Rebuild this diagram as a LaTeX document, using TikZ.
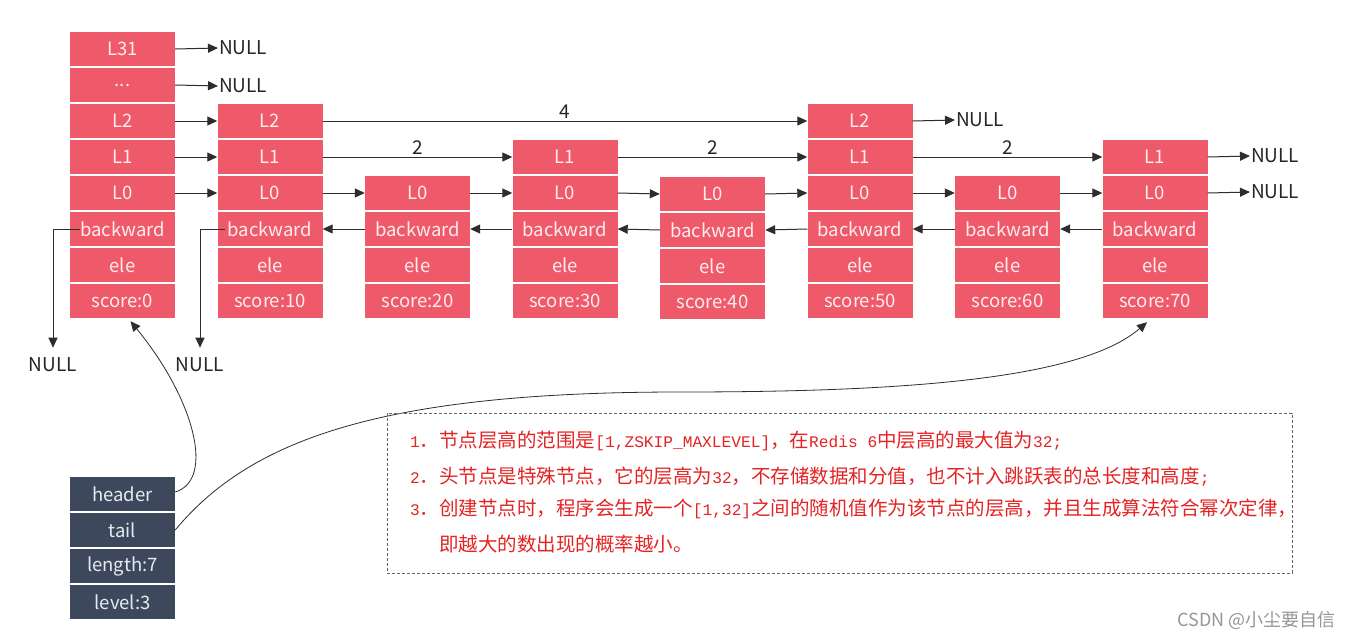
\documentclass[tikz,border=0pt]{standalone}
\usepackage{fontspec}
\setmainfont{Noto Sans CJK SC}
\newfontfamily\monof{Liberation Mono}[Scale=0.83]
\usetikzlibrary{arrows.meta}
\definecolor{cellred}{RGB}{239,90,106}
\definecolor{celltxt}{RGB}{255,236,238}
\definecolor{darkcell}{RGB}{61,72,92}
\definecolor{darktxt}{RGB}{230,235,242}
\definecolor{linec}{RGB}{45,45,45}
\definecolor{notered}{RGB}{228,36,36}
\definecolor{markgray}{RGB}{150,150,150}
\newcommand{\mn}[1]{{\monof #1}}
\begin{document}
\begin{tikzpicture}[x=1pt,y=-1pt,
  cell/.style={fill=cellred,text=celltxt,minimum width=105pt,minimum height=34pt,inner sep=0pt,font=\fontsize{18.5}{20}\selectfont},
  dcell/.style={cell,fill=darkcell,text=darktxt},
  arr/.style={draw=linec,line width=1pt,-{Triangle[length=10pt,width=9pt]}},
  curvearr/.style={arr,line width=0.8pt},
  nulltxt/.style={font=\fontsize{19}{21}\selectfont,text=black!85,inner sep=1pt},
  lbl/.style={font=\fontsize{19}{21}\selectfont,text=black!85,inner sep=0pt},
  note/.style={font=\fontsize{19.5}{22}\selectfont,text=notered,inner sep=0pt,anchor=west},
  notebox/.style={draw=black!60,line width=0.8pt,dash pattern=on 3pt off 2pt,minimum width=905pt,minimum height=160pt,inner sep=0pt},
  wmark/.style={font=\fontsize{18}{20}\selectfont,text=markgray,anchor=east,inner sep=0pt}
]
\fill[white] (0,0) rectangle (1351,640);
\useasboundingbox (0,0) rectangle (1351,640);

% skip-list nodes
\foreach \c/\x/\top/\s/\dy in {0/122.5/2/0/0,1/270/2/10/0,2/417.5/0/20/0,3/565/1/30/0,4/712.5/0/40/1,5/860/2/50/0,6/1007.5/0/60/0,7/1155/1/70/0}{
  \node[cell] (c\c-l0) at (\x,193+\dy) {L0};
  \node[cell] (c\c-bw) at (\x,229+\dy) {backward};
  \node[cell] (c\c-ele) at (\x,265+\dy) {ele};
  \node[cell] (c\c-sc) at (\x,301+\dy) {score:\s};
  \ifnum\top>0 \node[cell] (c\c-l1) at (\x,157+\dy) {L1};\fi
  \ifnum\top>1 \node[cell] (c\c-l2) at (\x,121+\dy) {L2};\fi
}
\node[cell] (c0-l31) at (122.5,49) {L31};
\node[cell] (c0-dots) at (122.5,85) {...};

% NULL targets
\node[nulltxt,anchor=west] (n31) at (218,48) {NULL};
\node[nulltxt,anchor=west] (ndots) at (218,86) {NULL};
\node[nulltxt,anchor=west] (n5l2) at (955,120) {NULL};
\node[nulltxt,anchor=west] (n7l1) at (1250,156) {NULL};
\node[nulltxt,anchor=west] (n7l0) at (1250,192) {NULL};
\node[nulltxt] (nb0) at (53,365) {NULL};
\node[nulltxt] (nb1) at (200,365) {NULL};

\draw[arr] (c0-l31.east) -- (n31.west);
\draw[arr] (c0-dots.east) -- (ndots.west);

% level 2
\draw[arr] (c0-l2.east) -- (c1-l2.west);
\draw[arr] (c1-l2.east) -- node[lbl,above=2pt] {4} (c5-l2.west);
\draw[arr] (c5-l2.east) -- (n5l2.west);

% level 1
\draw[arr] (c0-l1.east) -- (c1-l1.west);
\draw[arr] (c1-l1.east) -- node[lbl,above=2pt] {2} (c3-l1.west);
\draw[arr] (c3-l1.east) -- node[lbl,above=2pt] {2} (c5-l1.west);
\draw[arr] (c5-l1.east) -- node[lbl,above=2pt] {2} (c7-l1.west);
\draw[arr] (c7-l1.east) -- (n7l1.west);

% level 0
\foreach \a/\b in {0/1,1/2,2/3,3/4,4/5,5/6,6/7}
  \draw[arr] (c\a-l0.east) -- (c\b-l0.west);
\draw[arr] (c7-l0.east) -- (n7l0.west);

% backward
\foreach \a/\b in {2/1,3/2,4/3,5/4,6/5,7/6}
  \draw[arr] (c\a-bw.west) -- (c\b-bw.east);
\draw[arr,shorten >=9pt] ([xshift=10pt]c0-bw.west) -| (nb0.north);
\draw[arr,shorten >=9pt] ([xshift=8pt]c1-bw.west) -| (nb1.north);

% zskiplist struct
\node[dcell] (hd) at (122.5,494) {header};
\node[dcell] (tl) at (122.5,530) {tail};
\node[dcell] (len) at (122.5,566) {length:7};
\node[dcell] (lev) at (122.5,602) {level:3};

\draw[curvearr] ([yshift=2pt]hd.east) .. controls (215,480) and (195,400) .. ([shift={(8pt,-3pt)}]c0-sc.south);
\draw[curvearr] (tl.east) .. controls (250,440) and (380,392) .. (680,392) .. controls (900,392) and (1080,380) .. ([shift={(-8pt,-4pt)}]c7-sc.south);

% note box
\node[notebox] (box) at (839.5,493) {};
\node[note] (t1) at (410,441) {\mn{1}．节点层高的范围是\mn{[1,ZSKIP\_MAXLEVEL]}，在\mn{Redis 6}中层高的最大值为\mn{32;}};
\node[note] (t2) at (410,477) {\mn{2}．头节点是特殊节点，它的层高为\mn{32}，不存储数据和分值，也不计入跳跃表的总长度和高度\mn{;}};
\node[note] (t3) at (410,509) {\mn{3}．创建节点时，程序会生成一个\mn{[1,32]}之间的随机值作为该节点的层高，并且生成算法符合幂次定律，};
\node[note] (t4) at (410,544) {\phantom{\mn{3}．}即越大的数出现的概率越小。};

\node[wmark] (wm) at (1336,620) {CSDN @小尘要自信};
\end{tikzpicture}
\end{document}
